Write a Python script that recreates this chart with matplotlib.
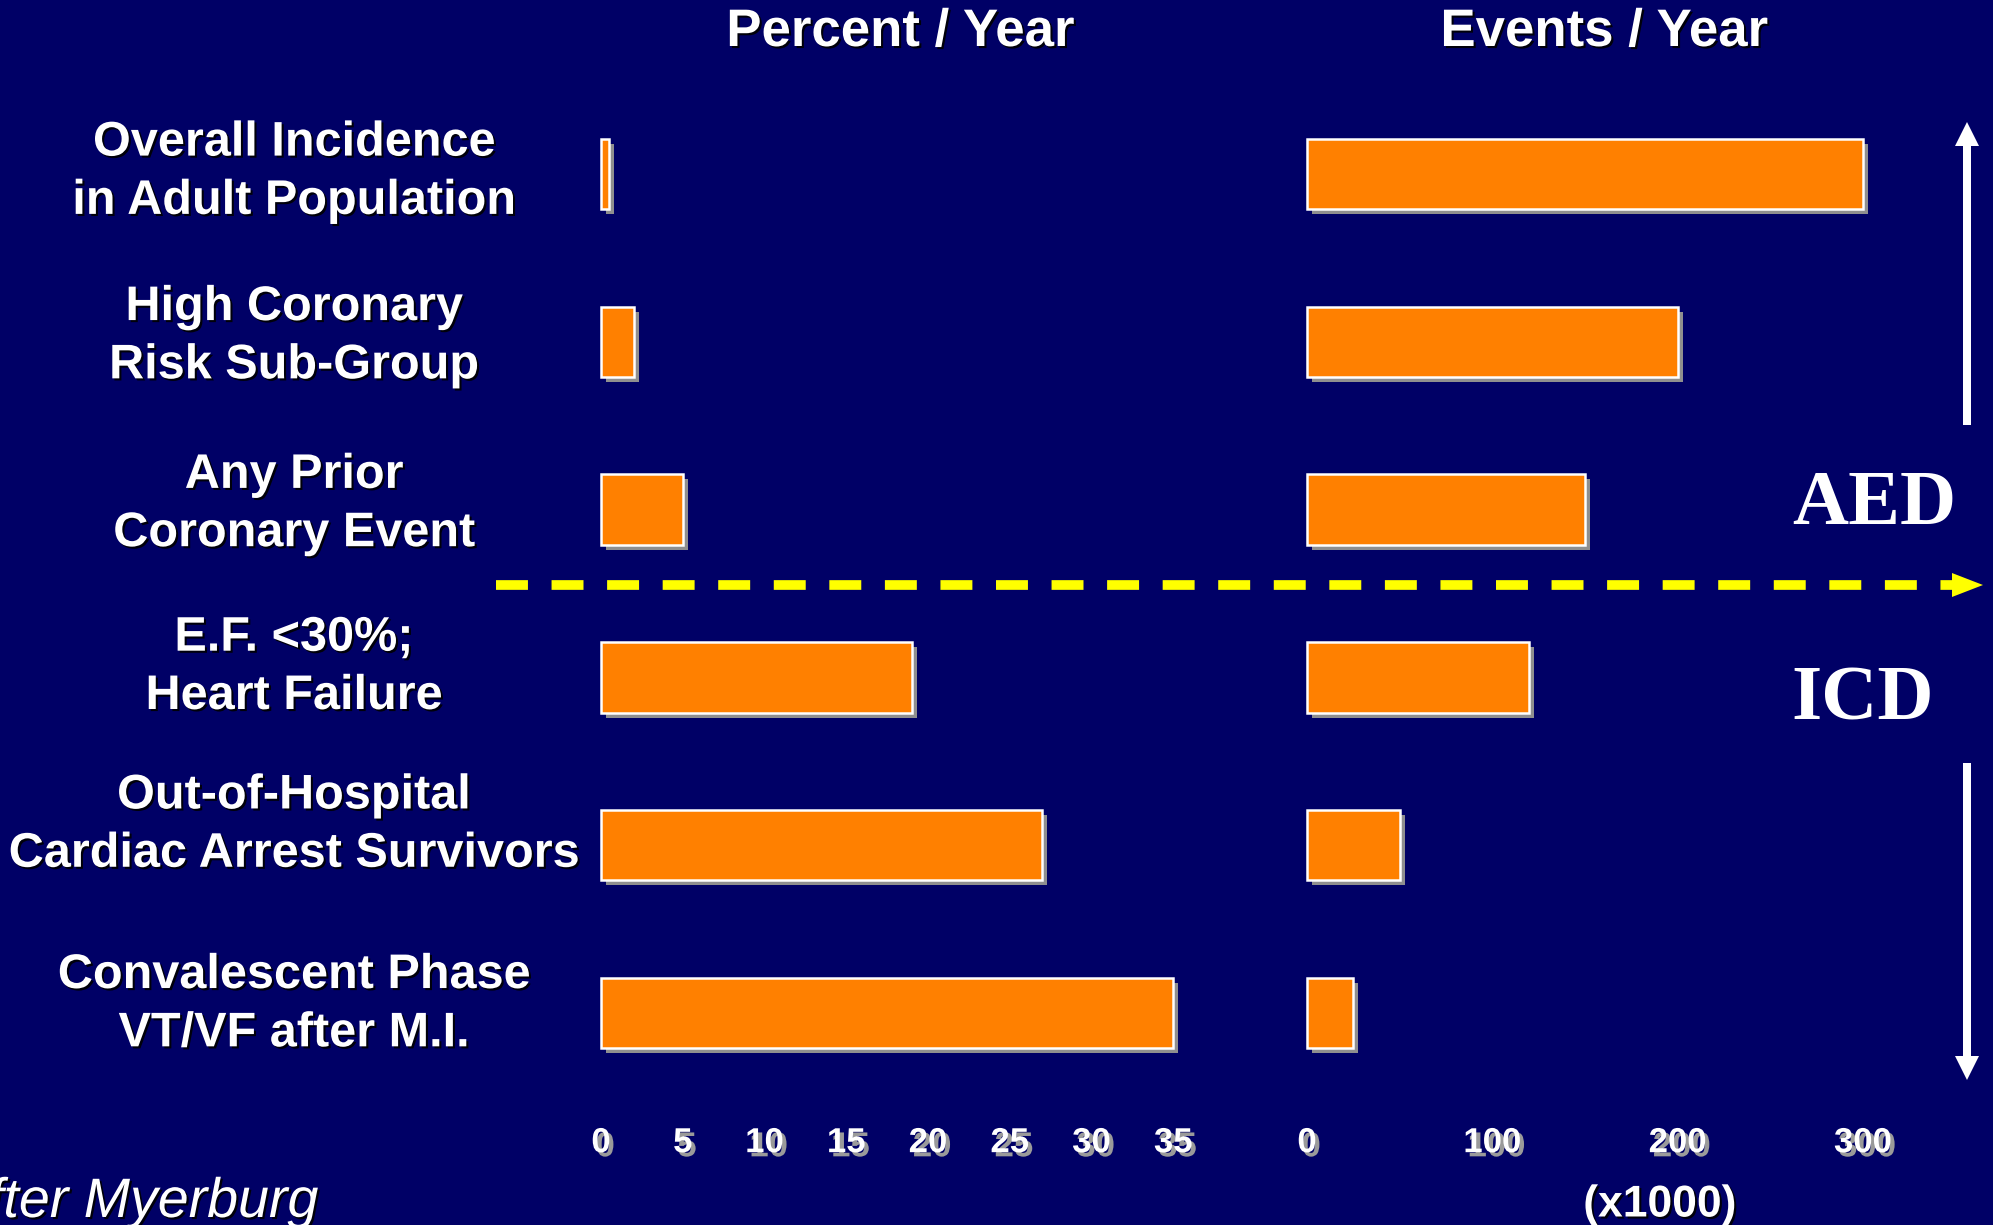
import matplotlib
matplotlib.use("Agg")
import matplotlib.pyplot as plt
import matplotlib.patheffects as pe
from matplotlib.transforms import blended_transform_factory

# ---------------------
# data
# ---------------------
categories = [
    "Overall Incidence\nin Adult Population",
    "High Coronary\nRisk Sub-Group",
    "Any Prior\nCoronary Event",
    "E.F. <30%;\nHeart Failure",
    "Out-of-Hospital\nCardiac Arrest Survivors",
    "Convalescent Phase\nVT/VF after M.I.",
]
percent_per_year = [0.5, 2, 5, 19, 27, 35]
events_per_year = [300, 200, 150, 120, 50, 25]   # x1000
percent_ticks = [0, 5, 10, 15, 20, 25, 30, 35]
events_ticks = [0, 100, 200, 300]

# small vertical nudges of the row labels (in row units)
label_nudge = [-0.01, -0.03, -0.03, -0.06, -0.12, -0.05]

# ---------------------
# style
# ---------------------
BG = "#000066"
ORANGE = "#FF8000"
SHADOW = "#8F8F8F"
W, H = 1993, 1225

plt.rcParams['font.family'] = ['Liberation Sans', 'DejaVu Sans']

fig = plt.figure(figsize=(W / 100, H / 100), dpi=100, facecolor=BG)

bar_fx = [pe.SimplePatchShadow(offset=(3.6, -3.6), shadow_rgbFace=SHADOW, alpha=1), pe.Normal()]
tick_fx = [pe.SimplePatchShadow(offset=(3, -3), shadow_rgbFace="#9A9A9A", alpha=1), pe.Normal()]
text_fx = [pe.SimplePatchShadow(offset=(1.5, -1.5), shadow_rgbFace="black", alpha=0.9), pe.Normal()]

# axes placed in pixel terms (zero of each scale and pixels per unit)
top_px, bottom_px = 90, 1097


def make_axes(x0_px, px_per_unit, xmax):
    width_px = px_per_unit * xmax
    ax = fig.add_axes([x0_px / W, 1 - bottom_px / H, width_px / W, (bottom_px - top_px) / H])
    ax.set_xlim(0, xmax)
    ax.set_ylim(len(categories) - 0.5, -0.5)
    ax.set_facecolor("none")
    for s in ax.spines.values():
        s.set_visible(False)
    ax.set_yticks([])
    ax.tick_params(axis="x", length=0, pad=21)
    return ax


ax1 = make_axes(601, 16.35, 40)
ax2 = make_axes(1307, 1.853, 330)

ypos = list(range(len(categories)))
for ax, vals, ticks in [(ax1, percent_per_year, percent_ticks), (ax2, events_per_year, events_ticks)]:
    bars = ax.barh(ypos, vals, height=0.42, color=ORANGE, edgecolor="white", linewidth=1.8)
    for b in bars:
        b.set_path_effects(bar_fx)
        b.set_clip_on(False)
    ax.set_xticks(ticks)
    ax.set_xticklabels([str(t) for t in ticks], color="white", fontsize=25, fontweight="bold",
                       family=['Liberation Sans Narrow', 'Liberation Sans'])
    for lab in ax.get_xticklabels():
        lab.set_path_effects(tick_fx)

# category labels
trans = blended_transform_factory(fig.transFigure, ax1.transData)
for i, name in enumerate(categories):
    ax1.text(294 / W, i + label_nudge[i], name, transform=trans, ha="center", va="center",
             fontsize=35, fontweight="bold", color="white", linespacing=1.38,
             path_effects=text_fx)

# ---------------------
# overlay in pixel coordinates
# ---------------------
ov = fig.add_axes([0, 0, 1, 1], facecolor="none")
ov.set_xlim(0, W)
ov.set_ylim(H, 0)
ov.axis("off")

ov.text(900, 32, "Percent / Year", ha="center", va="center", fontsize=38, fontweight="bold",
        color="white", path_effects=text_fx)
ov.text(1604, 32, "Events / Year", ha="center", va="center", fontsize=38, fontweight="bold",
        color="white", path_effects=text_fx)
ov.text(1660, 1205, "(x1000)", ha="center", va="center", fontsize=32, fontweight="bold",
        color="white", family=['Liberation Sans Narrow', 'Liberation Sans'], path_effects=text_fx)
ov.text(318, 1217, "after Myerburg", ha="right", va="baseline", fontsize=40, style="italic",
        color="white", path_effects=text_fx)

ov.text(1874, 505, "AED", ha="center", va="center", fontsize=56, fontweight="bold",
        color="white", family=['Liberation Serif', 'DejaVu Serif'])
ov.text(1863, 701, "ICD", ha="center", va="center", fontsize=56, fontweight="bold",
        color="white", family=['Liberation Serif', 'DejaVu Serif'])

# dashed yellow divider with arrowhead
lw = 7
ov.plot([496, 1953], [585, 585], color="#FFFF00", lw=lw, dashes=(23 / lw, 17 / lw), solid_capstyle="butt")
ov.arrow(1952, 585, 31, 0, width=0.1, head_width=24, head_length=31, length_includes_head=True,
         color="#FFFF00", lw=0)

# vertical white arrows
ov.arrow(1967, 425, 0, -303, width=8, head_width=24, head_length=24, length_includes_head=True,
         color="white", lw=0)
ov.arrow(1967, 763, 0, 317, width=8, head_width=24, head_length=24, length_includes_head=True,
         color="white", lw=0)

fig.savefig("out.png", dpi=100, facecolor=BG)
